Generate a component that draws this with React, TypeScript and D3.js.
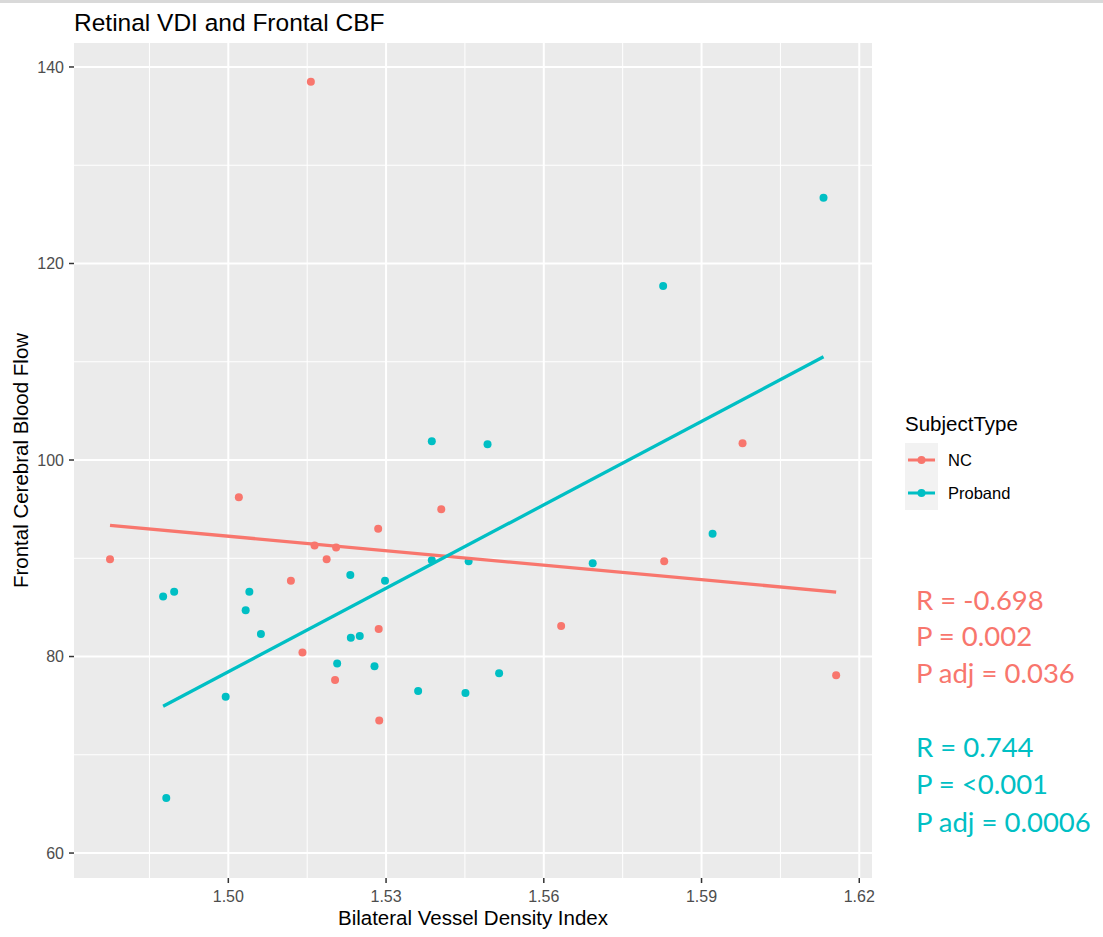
import React, { useEffect } from 'react';
import * as d3 from 'd3';

// values
const ncVdi = [1.4775, 1.5020, 1.5119, 1.5141, 1.5164, 1.5205, 1.5187, 1.5285, 1.5286, 1.5203, 1.5287, 1.5405, 1.5829, 1.5978, 1.5633, 1.6156, 1.5157];
const ncCbf = [89.9, 96.2, 87.7, 80.4, 91.3, 91.1, 89.9, 93.0, 82.8, 77.6, 73.5, 95.0, 89.7, 101.7, 83.1, 78.1, 138.5];

const probandVdi = [1.4876, 1.4897, 1.5040, 1.5033, 1.5062, 1.4995, 1.5232, 1.5298, 1.5233, 1.5250, 1.5207, 1.5278, 1.5361, 1.5387, 1.5387, 1.5493, 1.5457, 1.5693, 1.5921, 1.5451, 1.5515, 1.6132, 1.5827, 1.4882];
const probandCbf = [86.1, 86.6, 86.6, 84.7, 82.3, 75.9, 88.3, 87.7, 81.9, 82.1, 79.3, 79.0, 76.5, 101.9, 89.8, 101.6, 89.7, 89.5, 92.5, 76.3, 78.3, 126.7, 117.7, 65.6];

const xTicks = [1.50, 1.53, 1.56, 1.59, 1.62];
const yTicks = [60, 80, 100, 120, 140];

const groups = [
  { name: 'NC', color: '#F8766D', xs: ncVdi, ys: ncCbf },
  { name: 'Proband', color: '#00BFC4', xs: probandVdi, ys: probandCbf },
];

const statsNC = ['R = -0.698', 'P = 0.002', 'P adj = 0.036'];
const statsProband = ['R = 0.744', 'P = <0.001', 'P adj = 0.0006'];

const W = 1103;
const H = 937;
const panel = { left: 74, right: 872, top: 43, bottom: 878 };
const font = '"Liberation Sans", Arial, sans-serif';

// simple least squares fit, like geom_smooth(method = "lm")
function fitLine(xs: number[], ys: number[]) {
  const mx = d3.mean(xs)!;
  const my = d3.mean(ys)!;
  let sxy = 0, sxx = 0;
  xs.forEach((x, i) => {
    sxy += (x - mx) * (ys[i] - my);
    sxx += (x - mx) * (x - mx);
  });
  const b = sxy / sxx;
  const a = my - b * mx;
  const [x0, x1] = d3.extent(xs) as [number, number];
  return [[x0, a + b * x0], [x1, a + b * x1]];
}

export default function App() {
  useEffect(() => {
    document.body.style.margin = '0';
  }, []);

  const x = d3.scaleLinear().domain([1.47065, 1.62242]).range([panel.left, panel.right]);
  const y = d3.scaleLinear().domain([57.46, 142.44]).range([panel.bottom, panel.top]);

  const xMinor = xTicks.slice(0, -1).map((t) => t + 0.015).concat([xTicks[0] - 0.015]);
  const yMinor = yTicks.slice(0, -1).map((t) => t + 10);

  const line = d3.line<number[]>().x((d) => x(d[0])).y((d) => y(d[1]));

  return (
    <svg width={W} height={H} style={{ display: 'block', background: '#fff' }} fontFamily={font}>
      <line x1={0} x2={W} y1={1.5} y2={1.5} stroke="#d9d9d9" strokeWidth={3} />

      <text x={74} y={31} fontSize={24.5} fill="#000">Retinal VDI and Frontal CBF</text>

      <rect x={panel.left} y={panel.top} width={panel.right - panel.left} height={panel.bottom - panel.top} fill="#EBEBEB" />

      {xMinor.map((t) => (
        <line key={'xm' + t} x1={x(t)} x2={x(t)} y1={panel.top} y2={panel.bottom} stroke="#fff" strokeWidth={1} />
      ))}
      {yMinor.map((t) => (
        <line key={'ym' + t} y1={y(t)} y2={y(t)} x1={panel.left} x2={panel.right} stroke="#fff" strokeWidth={1} />
      ))}
      {xTicks.map((t) => (
        <line key={'xg' + t} x1={x(t)} x2={x(t)} y1={panel.top} y2={panel.bottom} stroke="#fff" strokeWidth={2} />
      ))}
      {yTicks.map((t) => (
        <line key={'yg' + t} y1={y(t)} y2={y(t)} x1={panel.left} x2={panel.right} stroke="#fff" strokeWidth={2} />
      ))}

      {/* x axis */}
      {xTicks.map((t) => (
        <g key={'xt' + t}>
          <line x1={x(t)} x2={x(t)} y1={panel.bottom} y2={panel.bottom + 5} stroke="#333" strokeWidth={1.5} />
          <text x={x(t)} y={902} textAnchor="middle" fontSize={16} fill="#4D4D4D">{t.toFixed(2)}</text>
        </g>
      ))}
      {/* y axis */}
      {yTicks.map((t) => (
        <g key={'yt' + t}>
          <line x1={panel.left - 5} x2={panel.left} y1={y(t)} y2={y(t)} stroke="#333" strokeWidth={1.5} />
          <text x={panel.left - 10} y={y(t)} dy="0.35em" textAnchor="end" fontSize={16} fill="#4D4D4D">{t}</text>
        </g>
      ))}

      <text x={(panel.left + panel.right) / 2} y={925} textAnchor="middle" fontSize={20.5} fill="#000">Bilateral Vessel Density Index</text>
      <text transform={`translate(28,${(panel.top + panel.bottom) / 2}) rotate(-90)`} textAnchor="middle" fontSize={20.5} fill="#000">Frontal Cerebral Blood Flow</text>

      {/* points */}
      {groups.map((g) =>
        g.xs.map((v, i) => (
          <circle key={g.name + i} cx={x(v)} cy={y(g.ys[i])} r={4} fill={g.color} />
        ))
      )}

      {/* regression lines */}
      {groups.map((g) => (
        <path key={'fit' + g.name} d={line(fitLine(g.xs, g.ys))!} stroke={g.color} strokeWidth={3.3} fill="none" />
      ))}

      {/* legend */}
      <text x={905} y={431} fontSize={20.5} fill="#000">SubjectType</text>
      <rect x={905} y={443} width={33} height={67} fill="#F2F2F2" />
      {groups.map((g, i) => {
        const cy = 460 + i * 33;
        return (
          <g key={'lg' + g.name}>
            <line x1={908} x2={935} y1={cy} y2={cy} stroke={g.color} strokeWidth={3} />
            <circle cx={921.5} cy={cy} r={4} fill={g.color} />
            <text x={948} y={cy} dy="0.35em" fontSize={16.5} fill="#000">{g.name}</text>
          </g>
        );
      })}

      {/* correlation annotations */}
      {statsNC.map((s, i) => (
        <text key={'sn' + i} x={916} y={600 + i * 36.5} dy="0.35em" fontSize={27.5} fill="#F8766D" fontFamily='Lato, "Open Sans", sans-serif'>{s}</text>
      ))}
      {statsProband.map((s, i) => (
        <text key={'sp' + i} x={916} y={747 + i * 37.5} dy="0.35em" fontSize={27.5} fill="#00BFC4" fontFamily='Lato, "Open Sans", sans-serif'>{s}</text>
      ))}
    </svg>
  );
}
